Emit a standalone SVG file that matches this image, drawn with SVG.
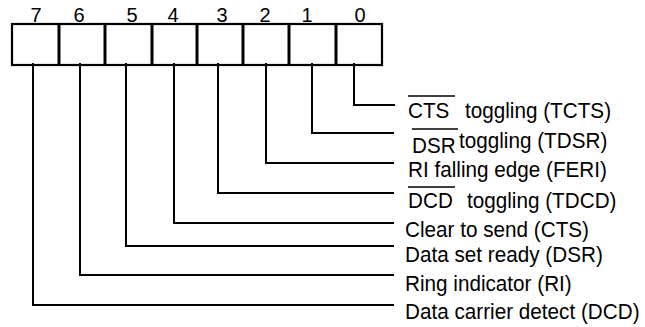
<svg xmlns="http://www.w3.org/2000/svg" width="645" height="327" viewBox="0 0 645 327">
<style>
text{font-family:"Liberation Sans",Arial,sans-serif;fill:#000}
.d{font-size:20px;text-anchor:middle}
.t{font-size:22.5px}
.c{fill:none;stroke:#000;stroke-width:2}
.ov{stroke:#000;stroke-width:1.6}
.box{fill:#fff;stroke:#000;stroke-width:2.2}
.div{stroke:#000;stroke-width:3}
</style>
<rect width="645" height="327" fill="#fff"/>
<g id="register">
<rect class="box" x="12" y="24" width="370" height="41"/>
<line class="div" x1="59" y1="24" x2="59" y2="65"/>
<line class="div" x1="105" y1="24" x2="105" y2="65"/>
<line class="div" x1="152" y1="24" x2="152" y2="65"/>
<line class="div" x1="197" y1="24" x2="197" y2="65"/>
<line class="div" x1="243" y1="24" x2="243" y2="65"/>
<line class="div" x1="289" y1="24" x2="289" y2="65"/>
<line class="div" x1="336" y1="24" x2="336" y2="65"/>
<text class="d" x="36" y="22">7</text>
<text class="d" x="79" y="22">6</text>
<text class="d" x="132" y="22">5</text>
<text class="d" x="173" y="22">4</text>
<text class="d" x="222" y="22">3</text>
<text class="d" x="265" y="22">2</text>
<text class="d" x="307" y="22">1</text>
<text class="d" x="360" y="22">0</text>
</g>
<g id="connectors">
<polyline class="c" points="354,63 354,105 395,105"/>
<polyline class="c" points="312,63 312,133 394,133"/>
<polyline class="c" points="266,63 266,163 394,163"/>
<polyline class="c" points="218,63 218,193 394,193"/>
<polyline class="c" points="174,63 174,223 394,223"/>
<polyline class="c" points="126,63 126,246 394,246"/>
<polyline class="c" points="80,63 80,275 394,275"/>
<polyline class="c" points="33,63 33,305 394,305"/>
</g>
<g id="bit0">
<text class="t" transform="translate(408,118) scale(0.92 1)">CTS</text>
<line class="ov" x1="408" y1="96" x2="455" y2="96"/>
<text class="t" transform="translate(465,118) scale(0.92 1)">toggling (TCTS)</text>
</g>
<g id="bit1">
<text class="t" transform="translate(412,153) scale(0.92 1)">DSR</text>
<line class="ov" x1="412" y1="129" x2="458" y2="129"/>
<text class="t" transform="translate(459,148) scale(0.92 1)">toggling (TDSR)</text>
</g>
<g id="bit2">
<text class="t" transform="translate(408,177) scale(0.92 1)">RI falling edge (FERI)</text>
</g>
<g id="bit3">
<text class="t" transform="translate(408,208) scale(0.92 1)">DCD</text>
<line class="ov" x1="408" y1="187" x2="455" y2="187"/>
<text class="t" transform="translate(467,208) scale(0.92 1)">toggling (TDCD)</text>
</g>
<g id="bit4"><text class="t" transform="translate(405,237) scale(0.92 1)">Clear to send (CTS)</text></g>
<g id="bit5"><text class="t" transform="translate(405,262) scale(0.92 1)">Data set ready (DSR)</text></g>
<g id="bit6"><text class="t" transform="translate(405,291) scale(0.92 1)">Ring indicator (RI)</text></g>
<g id="bit7"><text class="t" transform="translate(405,319) scale(0.92 1)">Data carrier detect (DCD)</text></g>
</svg>
